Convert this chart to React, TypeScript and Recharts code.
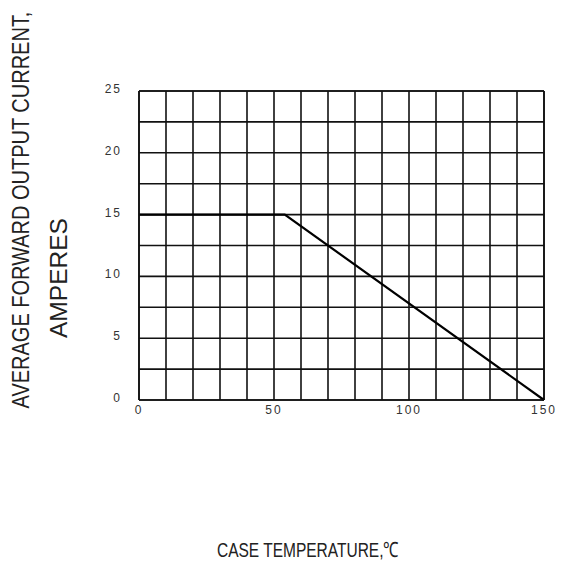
import React from 'react';
import { LineChart, Line, XAxis, YAxis, CartesianGrid, ReferenceLine, Label } from 'recharts';

const temperature = [0, 54, 150];
const current = [15, 15, 0];
const xTicks = [0, 10, 20, 30, 40, 50, 60, 70, 80, 90, 100, 110, 120, 130, 140, 150];
const yTicks = [0, 2.5, 5, 7.5, 10, 12.5, 15, 17.5, 20, 22.5, 25];
const xLabeled = [0, 50, 100, 150];
const yLabeled = [0, 5, 10, 15, 20, 25];
const yTitleLine1 = 'AVERAGE FORWARD OUTPUT CURRENT,';
const yTitleLine2 = 'AMPERES';
const xTitle = 'CASE TEMPERATURE,℃';

const data = temperature.map((t, i) => ({ t, a: current[i] }));

const FONT = '"Liberation Sans", Arial, Helvetica, sans-serif';

const XTick = (props: any) => {
  const { x, y, payload } = props;
  if (!xLabeled.includes(payload.value)) return null;
  return (
    <text x={x} y={y} dy={10} textAnchor="middle" fontFamily={FONT} fontSize={12} fill="#333" letterSpacing={2}>
      {payload.value}
    </text>
  );
};

const YTick = (props: any) => {
  const { x, y, payload } = props;
  if (!yLabeled.includes(payload.value)) return null;
  return (
    <text x={x} y={y} dy={2} textAnchor="end" fontFamily={FONT} fontSize={12} fill="#333" letterSpacing={2}>
      {payload.value}
    </text>
  );
};

const YTitle = () => (
  <g>
    <text
      transform="translate(21,210) rotate(-90) scale(1,1.2)"
      textAnchor="middle"
      dominantBaseline="central"
      fontFamily={FONT}
      fontSize={20}
      fill="#222"
    >
      {yTitleLine1}
    </text>
    <text
      transform="translate(58,278) rotate(-90)"
      textAnchor="middle"
      dominantBaseline="central"
      fontFamily={FONT}
      fontSize={24}
      fill="#222"
      textLength={120}
      lengthAdjust="spacingAndGlyphs"
    >
      {yTitleLine2}
    </text>
  </g>
);

const XTitle = () => (
  <text
    x={308}
    y={549}
    textAnchor="middle"
    dominantBaseline="central"
    fontFamily={FONT}
    fontSize={21}
    fill="#222"
    textLength={182}
    lengthAdjust="spacingAndGlyphs"
  >
    {xTitle}
  </text>
);

export default function App() {
  return (
    <div style={{ position: 'absolute', left: 0, top: 0, background: '#fff' }}>
      <LineChart
        width={565}
        height={584}
        data={data}
        margin={{ top: 91, right: 21, bottom: 154, left: 0 }}
      >
        <CartesianGrid stroke="#111" strokeWidth={1.6} horizontal vertical />
        <XAxis
          dataKey="t"
          type="number"
          domain={[0, 150]}
          ticks={xTicks}
          interval={0}
          height={30}
          tickLine={false}
          tickSize={0}
          tickMargin={4}
          axisLine={{ stroke: '#111', strokeWidth: 1.6 }}
          tick={<XTick />}
        >
          <Label content={() => <XTitle />} />
        </XAxis>
        <YAxis
          type="number"
          domain={[0, 25]}
          ticks={yTicks}
          interval={0}
          width={139}
          tickLine={false}
          tickSize={0}
          tickMargin={17}
          axisLine={{ stroke: '#111', strokeWidth: 1.6 }}
          tick={<YTick />}
        >
          <Label content={() => <YTitle />} />
        </YAxis>
        <ReferenceLine y={25} stroke="#111" strokeWidth={1.6} />
        <ReferenceLine x={150} stroke="#111" strokeWidth={1.6} />
        <Line
          type="linear"
          dataKey="a"
          stroke="#000"
          strokeWidth={2.2}
          dot={false}
          isAnimationActive={false}
        />
      </LineChart>
    </div>
  );
}
